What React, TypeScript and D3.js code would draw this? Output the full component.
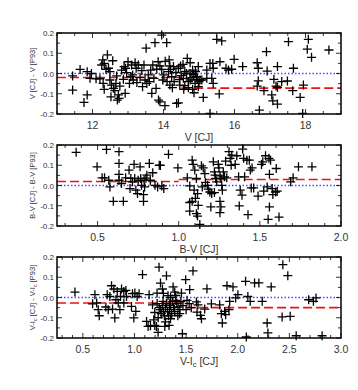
import React from 'react';
import * as d3 from 'd3';

// panel 1: V [CJ] vs V [CJ] - V [P93]
const vCJ = [11.44, 11.44, 11.65, 11.76, 11.85, 11.85, 11.93, 11.97, 12.1, 12.21, 12.26, 12.29, 12.42, 12.33, 12.38, 12.3, 12.33, 12.45, 12.49, 12.53, 12.49, 12.52, 12.57, 12.59, 12.63, 12.66, 12.68, 12.73, 12.75, 12.77, 12.7, 12.82, 12.87, 12.89, 12.92, 12.93, 12.96, 13.0, 13.04, 13.08, 13.1, 13.13, 13.15, 13.2, 13.23, 13.25, 13.29, 13.34, 13.39, 13.41, 13.45, 13.51, 13.48, 13.53, 13.57, 13.6, 13.64, 13.67, 13.7, 13.73, 13.76, 13.79, 13.81, 13.85, 13.86, 13.9, 13.95, 13.98, 14.01, 14.04, 14.09, 14.14, 14.16, 14.18, 14.23, 14.28, 14.37,
  14.67, 14.75, 14.48, 14.42, 14.18, 13.9, 14.98, 15.22, 15.31, 14.82, 14.65, 14.93, 15.08, 14.75, 14.56, 14.89, 14.98, 14.82, 14.46, 14.42,
  15.5, 15.64, 15.59, 15.39, 15.4, 15.76, 15.83, 15.92, 15.99, 16.23, 15.57, 15.12, 15.31, 14.86, 14.57, 15.36, 15.4, 15.22, 15.03, 16.64, 16.67, 16.9, 16.92, 17.21, 16.67, 16.64, 16.83, 17.11, 17.17, 17.21, 17.33, 17.49, 17.05, 17.08, 17.21, 16.7, 17.52, 17.66, 17.64, 17.94, 17.85, 17.92, 18.08, 18.05, 18.17, 18.66,
  14.5, 14.6, 14.7, 14.75, 14.8, 14.85, 14.9, 14.95, 15.0, 14.55, 14.6, 14.7, 14.45, 14.35, 14.3, 14.25, 14.2, 14.1, 14.05, 13.95];
const dV = [-0.082, -0.012, 0.02, -0.143, -0.106, 0.009, -0.024, 0.0, -0.026, -0.026, 0.042, 0.067, 0.092, 0.05, 0.021, -0.049, -0.078, 0.026, 0.009, -0.057, -0.032, -0.115, 0.063, -0.073, -0.085, -0.049, -0.012, -0.106, -0.123, -0.062, -0.131, 0.017, -0.029, 0.034, -0.098, 0.026, 0.004, 0.058, -0.049, -0.016, 0.042, -0.007, -0.032, 0.053, 0.026, -0.045, 0.042, -0.019, 0.014, -0.065, 0.042, 0.125, -0.032, -0.049, -0.007, -0.04, 0.017, -0.098, 0.042, -0.024, 0.152, -0.073, 0.021, 0.058, -0.131, -0.14, 0.19, -0.032, -0.007, -0.159, 0.152, 0.009, 0.067, -0.057, -0.016, 0.034, -0.148,
  0.075, 0.053, 0.037, 0.026, 0.037, 0.037, 0.034, 0.017, 0.05, 0.017, 0.0, -0.016, -0.032, -0.032, -0.024, -0.049, -0.065, -0.078, -0.057, -0.145,
  0.169, 0.161, 0.058, 0.05, 0.026, 0.026, 0.017, 0.021, 0.07, 0.034, -0.101, -0.118, -0.197, -0.095, -0.078, -0.024, -0.049, -0.024, -0.032, 0.053, 0.026, 0.108, 0.012, 0.034, -0.036, -0.062, -0.085, -0.029, -0.062, -0.068, -0.04, -0.037, -0.106, -0.135, -0.151, -0.181, 0.157, 0.026, -0.085, -0.057, -0.118, -0.197, 0.169, 0.12, 0.08, 0.116,
  -0.01, 0.01, -0.04, 0.0, -0.02, -0.005, 0.01, -0.03, -0.04, 0.045, -0.06, -0.07, -0.03, 0.005, -0.04, -0.07, 0.02, -0.04, 0.06, 0.02];
const vStepEdges = [11, 14.5, 19];
const vStepVals = [-0.02, -0.072];

// panel 2: B-V
const bvCJ = [0.368, 0.497, 0.555, 0.528, 0.543, 0.569, 0.576, 0.597, 0.632, 0.632, 0.632, 0.632, 0.647, 0.659, 0.673, 0.694, 0.705, 0.715, 0.7, 0.725, 0.729, 0.736, 0.746, 0.75, 0.762, 0.766, 0.771, 0.783, 0.783, 0.787, 0.79, 0.804, 0.819, 0.825, 0.84, 0.854, 0.87, 0.88, 0.896, 0.908, 0.937, 0.995, 0.887, 0.798,
  1.053, 1.068, 1.083, 1.089, 1.099, 1.109, 1.095, 1.116, 1.103, 1.068, 1.083, 1.12, 1.068, 1.109, 1.116, 1.13, 1.14, 1.151, 1.161, 1.165, 1.178, 1.145, 1.182, 1.192, 1.198, 1.203, 1.213, 1.22, 1.224, 1.228, 1.234, 1.22, 1.244, 1.248, 1.254, 1.26, 1.265, 1.254, 1.26, 1.254, 1.269, 1.275, 1.282, 1.289, 1.296, 1.31, 1.317, 1.323, 1.327, 1.348, 1.358, 1.369, 1.379, 1.39, 1.394, 1.4, 1.406, 1.42, 1.435, 1.441, 1.452, 1.447, 1.462, 1.427, 1.373, 1.489, 1.51, 1.518, 1.524, 1.535, 1.545, 1.556, 1.559, 1.566, 1.576, 1.58, 1.559, 1.551, 1.601, 1.597, 1.607, 1.618, 1.69, 1.705, 1.738, 1.821];
const dBV = [0.164, 0.092, 0.178, 0.038, 0.038, 0.026, -0.007, -0.078, 0.167, 0.109, 0.055, 0.026, 0.01, -0.078, 0.038, 0.076, 0.035, 0.018, -0.015, 0.104, 0.035, -0.023, -0.04, 0.026, 0.092, 0.035, 0.001, -0.045, -0.078, 0.026, -0.007, 0.051, 0.109, 0.026, 0.063, 0.001, -0.007, 0.1, -0.002, -0.015, 0.154, 0.087, 0.099, 0.036,
  0.038, -0.002, 0.125, 0.104, 0.076, 0.035, -0.023, -0.04, -0.064, -0.084, -0.078, -0.098, -0.127, -0.139, -0.151, -0.192, 0.097, 0.087, 0.059, 0.015, 0.001, -0.007, -0.018, -0.032, -0.106, -0.04, 0.117, 0.067, 0.051, 0.035, 0.018, -0.035, 0.104, 0.087, 0.048, 0.035, 0.001, -0.078, -0.106, -0.134, -0.023, 0.067, 0.043, 0.12, 0.038, 0.167, 0.134, 0.1, 0.15, 0.104, 0.147, 0.043, -0.023, -0.048, 0.18, 0.134, 0.043, 0.125, 0.125, 0.076, 0.087, -0.012, -0.012, -0.144, -0.101, -0.052, 0.104, 0.117, -0.028, 0.147, -0.007, 0.134, 0.055, 0.125, -0.015, -0.045, -0.106, -0.167, 0.084, -0.032, -0.028, -0.156, 0.018, 0.038, 0.092, 0.092];
const bvStepEdges = [0.25, 1.0, 2.0];
const bvStepVals = [0.02, 0.03];

// panel 3: V-Ic
const viCJ = [0.424, 0.595, 0.617, 0.634, 0.649, 0.659, 0.723, 0.736, 0.746, 0.762, 0.778, 0.788, 0.801, 0.81, 0.82, 0.833, 0.843, 0.859, 0.865, 0.875, 0.897, 0.917, 0.897, 0.923, 0.971, 0.981, 0.994, 1.004, 1.013, 1.026, 1.045, 1.078, 1.117, 1.142, 1.155, 1.175, 1.187, 1.197, 1.213, 1.219, 1.229, 1.238, 1.252, 1.271, 1.277, 1.294, 1.31, 1.325, 1.342,
  1.132, 1.197, 1.335, 1.349, 1.374, 1.39, 1.4, 1.422, 1.438, 1.464, 1.496, 1.509, 1.535, 1.567, 1.6, 1.606, 1.639, 1.649, 1.702, 1.745, 1.455, 1.615, 1.68,
  1.825, 1.841, 1.851, 1.873, 1.883, 1.896, 1.915, 1.922, 1.954, 1.98, 2.002, 2.076, 2.083, 2.098, 2.121, 2.163, 2.205, 2.237, 2.285, 2.292, 2.324, 2.43, 2.437, 2.485, 2.508, 2.566, 2.687, 2.733, 2.758, 2.817,
  1.22, 1.24, 1.25, 1.26, 1.27, 1.28, 1.29, 1.3, 1.31, 1.32, 1.33, 1.34, 1.35, 1.36, 1.37, 1.38, 1.39, 1.41, 1.42, 1.44, 1.23, 1.3, 1.35, 1.28, 1.4, 1.45, 1.47, 1.5, 1.53, 1.55];
const dVI = [0.027, -0.031, 0.014, -0.027, -0.06, -0.09, -0.047, 0.014, -0.06, 0.005, 0.058, -0.057, 0.042, -0.101, -0.011, 0.03, -0.027, -0.06, 0.005, 0.042, 0.03, 0.035, -0.027, 0.005, -0.044, 0.019, -0.101, 0.022, -0.069, 0.005, 0.019, 0.113, -0.118, 0.014, -0.139, -0.036, -0.11, -0.074, -0.143, 0.022, -0.172, 0.15, 0.071, 0.042, -0.019, -0.143, 0.107, 0.009, -0.031,
  -0.143, -0.138, -0.138, -0.105, 0.052, 0.027, -0.014, -0.047, -0.08, -0.179, 0.088, -0.014, 0.039, 0.131, -0.022, -0.072, -0.088, -0.105, 0.043, -0.031, 0.022, -0.036, -0.057,
  -0.036, -0.08, -0.126, -0.069, -0.085, 0.058, -0.06, -0.019, 0.052, -0.002, 0.014, 0.08, -0.195, 0.005, -0.019, 0.072, 0.072, -0.019, -0.126, -0.175, 0.052, -0.096, 0.162, 0.108, -0.093, -0.189, -0.011, -0.019, -0.002, -0.189,
  -0.03, -0.05, -0.06, -0.08, -0.04, -0.07, -0.09, -0.05, -0.03, -0.07, -0.09, -0.06, -0.04, -0.08, -0.02, -0.05, -0.07, -0.03, -0.09, -0.06, -0.1, -0.12, 0.0, 0.02, 0.01, -0.02, -0.04, -0.06, -0.03, -0.05];
const viStepEdges = [0.25, 1.5, 3.0];
const viStepVals = [-0.027, -0.05];

const yTicks = [-0.2, -0.1, 0.0, 0.1, 0.2];
const vTicks = [12, 14, 16, 18];
const bvTicks = [0.5, 1.0, 1.5, 2.0];
const viTicks = [0.5, 1.0, 1.5, 2.0, 2.5, 3.0];

const FONT = 'Liberation Sans, Arial, Helvetica, sans-serif';
const LEFT = 57;
const RIGHT = 341;

type PanelProps = {
  top: number;
  bottom: number;
  xs: number[];
  ys: number[];
  xDomain: [number, number];
  xTicks: number[];
  xMinor: number;
  xFmt: (d: number) => string;
  stepEdges: number[];
  stepVals: number[];
  xTitle: React.ReactNode;
  yTitle: React.ReactNode;
};

function Panel(p: PanelProps) {
  const x = d3.scaleLinear().domain(p.xDomain).range([LEFT, RIGHT]);
  const y = d3.scaleLinear().domain([-0.2, 0.2]).range([p.bottom, p.top]);
  const minorX = d3.range(Math.ceil(p.xDomain[0] / p.xMinor), Math.floor(p.xDomain[1] / p.xMinor) + 1).map(i => i * p.xMinor);
  const minorY = d3.range(-4, 5).map(i => i * 0.05);
  const isMajor = (v: number, ticks: number[]) => ticks.some(t => Math.abs(t - v) < 1e-6);
  const midY = (p.top + p.bottom) / 2;
  return (
    <g>
      {/* reference lines */}
      <line x1={LEFT} x2={RIGHT} y1={y(0)} y2={y(0)} stroke="#4a4aff" strokeWidth={1.5} strokeDasharray="1.5 2" />
      {p.stepVals.map((v, i) => (
        <line key={'s' + i} x1={x(p.stepEdges[i])} x2={x(p.stepEdges[i + 1])} y1={y(v)} y2={y(v)}
          stroke="#ee1111" strokeWidth={1.6} strokeDasharray="9 4" />
      ))}
      {/* points */}
      {p.xs.map((xv, i) => {
        const cx = x(xv), cy = y(p.ys[i]);
        return <path key={i} d={`M${cx - 4.5},${cy}h9M${cx},${cy - 4.5}v9`} stroke="#000" strokeWidth={1.3} fill="none" />;
      })}
      {/* ticks */}
      {minorX.map((v, i) => {
        const len = isMajor(v, p.xTicks) ? 5 : 3;
        return (
          <g key={'tx' + i} stroke="#000" strokeWidth={0.8}>
            <line x1={x(v)} x2={x(v)} y1={p.bottom} y2={p.bottom - len} />
            <line x1={x(v)} x2={x(v)} y1={p.top} y2={p.top + len} />
          </g>
        );
      })}
      {minorY.map((v, i) => {
        const len = isMajor(v, yTicks) ? 5 : 3;
        return (
          <g key={'ty' + i} stroke="#000" strokeWidth={0.8}>
            <line x1={LEFT} x2={LEFT + len} y1={y(v)} y2={y(v)} />
            <line x1={RIGHT} x2={RIGHT - len} y1={y(v)} y2={y(v)} />
          </g>
        );
      })}
      <rect x={LEFT} y={p.top} width={RIGHT - LEFT} height={p.bottom - p.top} fill="none" stroke="#000" strokeWidth={1.5} />
      {/* tick labels */}
      {yTicks.map((v, i) => (
        <text key={'ly' + i} x={LEFT - 3} y={y(v) + 3} textAnchor="end" fontSize={8} fontFamily={FONT} fill="#333">
          {d3.format('.1f')(v).replace('−', '-')}
        </text>
      ))}
      {p.xTicks.map((v, i) => (
        <text key={'lx' + i} x={x(v)} y={p.bottom + 15} textAnchor="middle" fontSize={10.5} fontFamily={FONT} fill="#333">
          {p.xFmt(v)}
        </text>
      ))}
      <text x={(LEFT + RIGHT) / 2} y={p.bottom + 27} textAnchor="middle" fontSize={10.5} fontFamily={FONT} fill="#333">
        {p.xTitle}
      </text>
      <text transform={`translate(35,${midY}) rotate(-90)`} textAnchor="middle" fontSize={7.5} fontFamily={FONT} fill="#333">
        {p.yTitle}
      </text>
    </g>
  );
}

export default function App() {
  const sub = (s: string, fs: number) => (
    <>
      <tspan dy={2} fontSize={fs}>{s}</tspan>
      <tspan dy={-2}> </tspan>
    </>
  );
  return (
    <svg width={358} height={390} style={{ position: 'absolute', left: 0, top: 0, background: '#fff' }}>
      <rect width={358} height={390} fill="#fff" />
      <Panel top={33} bottom={114} xs={vCJ} ys={dV} xDomain={[11, 19]} xTicks={vTicks} xMinor={0.5}
        xFmt={d => String(d)} stepEdges={vStepEdges} stepVals={vStepVals}
        xTitle="V [CJ]" yTitle="V [CJ] - V [P93]" />
      <Panel top={145} bottom={226} xs={bvCJ} ys={dBV} xDomain={[0.25, 2.0]} xTicks={bvTicks} xMinor={0.1}
        xFmt={d => d3.format('.1f')(d)} stepEdges={bvStepEdges} stepVals={bvStepVals}
        xTitle="B-V [CJ]" yTitle="B-V [CJ] - B-V [P93]" />
      <Panel top={257} bottom={338} xs={viCJ} ys={dVI} xDomain={[0.25, 3.0]} xTicks={viTicks} xMinor={0.1}
        xFmt={d => d3.format('.1f')(d)} stepEdges={viStepEdges} stepVals={viStepVals}
        xTitle={<>V-I{sub('c', 7.5)}[CJ]</>}
        yTitle={<>V-I{sub('c', 5.5)}[CJ] - V-I{sub('c', 5.5)}[P93]</>} />
    </svg>
  );
}
